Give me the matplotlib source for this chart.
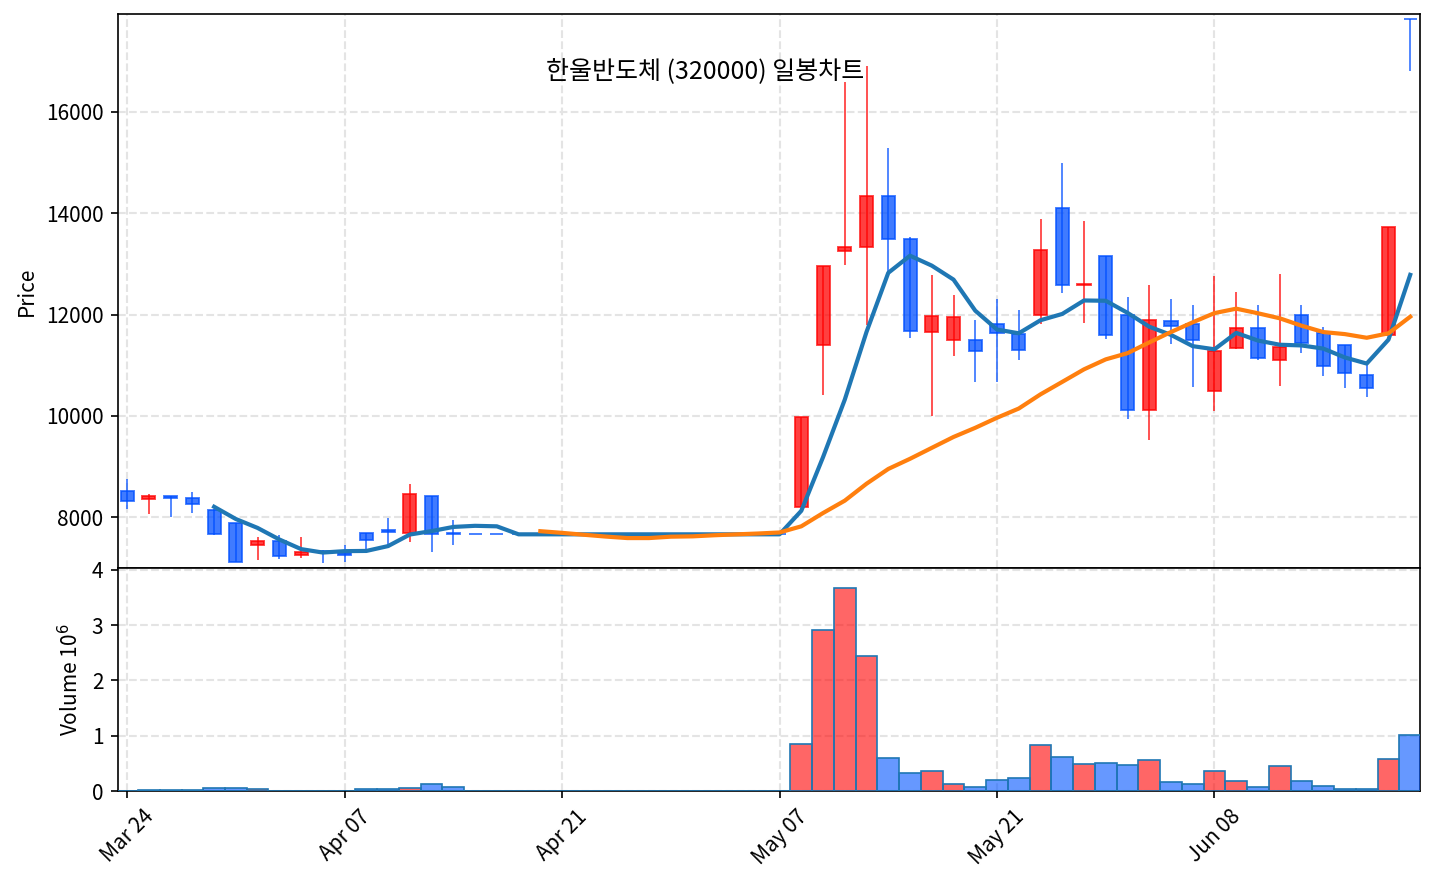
import matplotlib
matplotlib.use("Agg")
import matplotlib.pyplot as plt
from matplotlib.ticker import FuncFormatter
import numpy as np
import pandas as pd

plt.rcParams['font.family'] = ['Noto Sans CJK KR', 'DejaVu Sans']
plt.rcParams['axes.unicode_minus'] = False

title = "한울반도체 (320000) 일봉차트"
tick_labels = ["Mar 24", "Apr 07", "Apr 21", "May 07", "May 21", "Jun 08"]

halt = [7660] * 15
opens = [8510, 8360, 8410, 8370, 8150, 7890, 7440, 7530, 7250, 7340, 7300, 7690, 7750, 7690, 8420, 7690] + halt + \
        [8190, 11400, 13260, 13330, 14350, 13500, 11650, 11500, 11490, 11810, 11610, 11990, 14110, 12580, 13160,
         12000, 10110, 11880, 11810, 10490, 11330, 11730, 11100, 12000, 11630, 11390, 10810, 11600, 17830]
highs = [8750, 8450, 8410, 8500, 8160, 7890, 7610, 7640, 7610, 7350, 7440, 7690, 7980, 8650, 8420, 7940] + halt + \
        [9980, 12960, 16600, 16900, 15280, 13540, 12790, 12390, 11890, 12310, 12090, 13890, 14990, 13850, 13160,
         12350, 12580, 12310, 12190, 12760, 12440, 12190, 12800, 12190, 11750, 11390, 11020, 13720, 17830]
lows = [8160, 8060, 8000, 8080, 7650, 7110, 7160, 7170, 7200, 7090, 7120, 7350, 7430, 7510, 7320, 7450] + halt + \
       [8190, 10410, 12980, 11800, 12810, 11530, 10000, 11190, 10670, 10670, 11100, 11810, 12420, 11840, 11510,
        9930, 9520, 11410, 10570, 10100, 11310, 11100, 10590, 11250, 10790, 10540, 10380, 11600, 16800]
closes = [8320, 8410, 8370, 8260, 7660, 7110, 7530, 7230, 7310, 7320, 7250, 7550, 7710, 8450, 7660, 7660] + halt + \
         [9980, 12960, 13340, 14350, 13490, 11670, 11980, 11960, 11280, 11630, 11300, 13270, 12580, 12610, 11600,
          10110, 11900, 11770, 11500, 11290, 11730, 11140, 11360, 11430, 10980, 10850, 10540, 13720, 17830]
volumes = [5000, 24000, 24000, 24000, 60000, 60000, 40000, 5000, 5000, 5000, 5000, 36000, 36000, 60000, 125000,
           75000] + [0] * 15 + \
          [855000, 2920000, 3667000, 2450000, 594000, 327000, 358000, 121000, 67000, 194000, 230000, 830000,
           612000, 485000, 505000, 467000, 558000, 158000, 121000, 362000, 180000, 67000, 448000, 180000, 85000,
           45000, 45000, 576000, 1018000]

o = np.array(opens, float)
h = np.array(highs, float)
l = np.array(lows, float)
c = np.array(closes, float)
v = np.array(volumes, float)
x = np.arange(len(c))
ma5 = pd.Series(c).rolling(5).mean()
ma20 = pd.Series(c).rolling(20).mean()

up = c > o
red = (1.0, 0.0, 0.0, 0.75)
blue = (0.0, 0.31, 1.0, 0.75)
ccols = [red if u else blue for u in up]

dpi = 150
W, H = 1434, 884
fig = plt.figure(figsize=(W / dpi, H / dpi), dpi=dpi)
ax = fig.add_axes([118 / W, 1 - 568 / H, (1420 - 118) / W, (568 - 14) / H])
axv = fig.add_axes([118 / W, 1 - 791 / H, (1420 - 118) / W, (791 - 568) / H], sharex=ax)

grid_kw = dict(color='#e4e4e4', linestyle='--', linewidth=1.0)
for a in (ax, axv):
    a.set_axisbelow(True)
    a.grid(True, **grid_kw)

# candles
ax.vlines(x, l, h, colors=ccols, linewidth=0.85, zorder=2)
ax.bar(x, np.abs(c - o), bottom=np.minimum(o, c), width=0.6, color=ccols, edgecolor=ccols,
       linewidth=0.9, zorder=3)
ax.plot(x, ma5, color='#1f77b4', linewidth=2.0, zorder=4)
ax.plot(x, ma20, color='#ff7f0e', linewidth=2.0, zorder=4)
ax.set_ylim(6995, 17935)
ax.set_yticks([8000, 10000, 12000, 14000, 16000])
ax.set_ylabel("Price")
ax.tick_params(axis='x', labelbottom=False)

# volume
vcols = [(1.0, 0.0, 0.0, 0.6) if u else (0.0, 0.33, 1.0, 0.6) for u in up]
axv.bar(x, v, width=1.0, color=vcols, edgecolor='#1f77b4', linewidth=0.8, zorder=3)
axv.set_ylim(0, v.max() * 1.1)
axv.set_yticks([0, 1e6, 2e6, 3e6, 4e6])
axv.yaxis.set_major_formatter(FuncFormatter(lambda val, pos: f"{val / 1e6:.0f}"))
axv.set_ylabel("Volume 10$^6$")

ax.set_xlim(-0.42, 59.45)
axv.set_xticks(np.arange(0, 60, 10))
axv.set_xticklabels(tick_labels, rotation=45)

fig.text(705 / W, 1 - 72 / H, title, ha='center', va='center', fontsize=12)

fig.savefig("out.png", dpi=dpi)
